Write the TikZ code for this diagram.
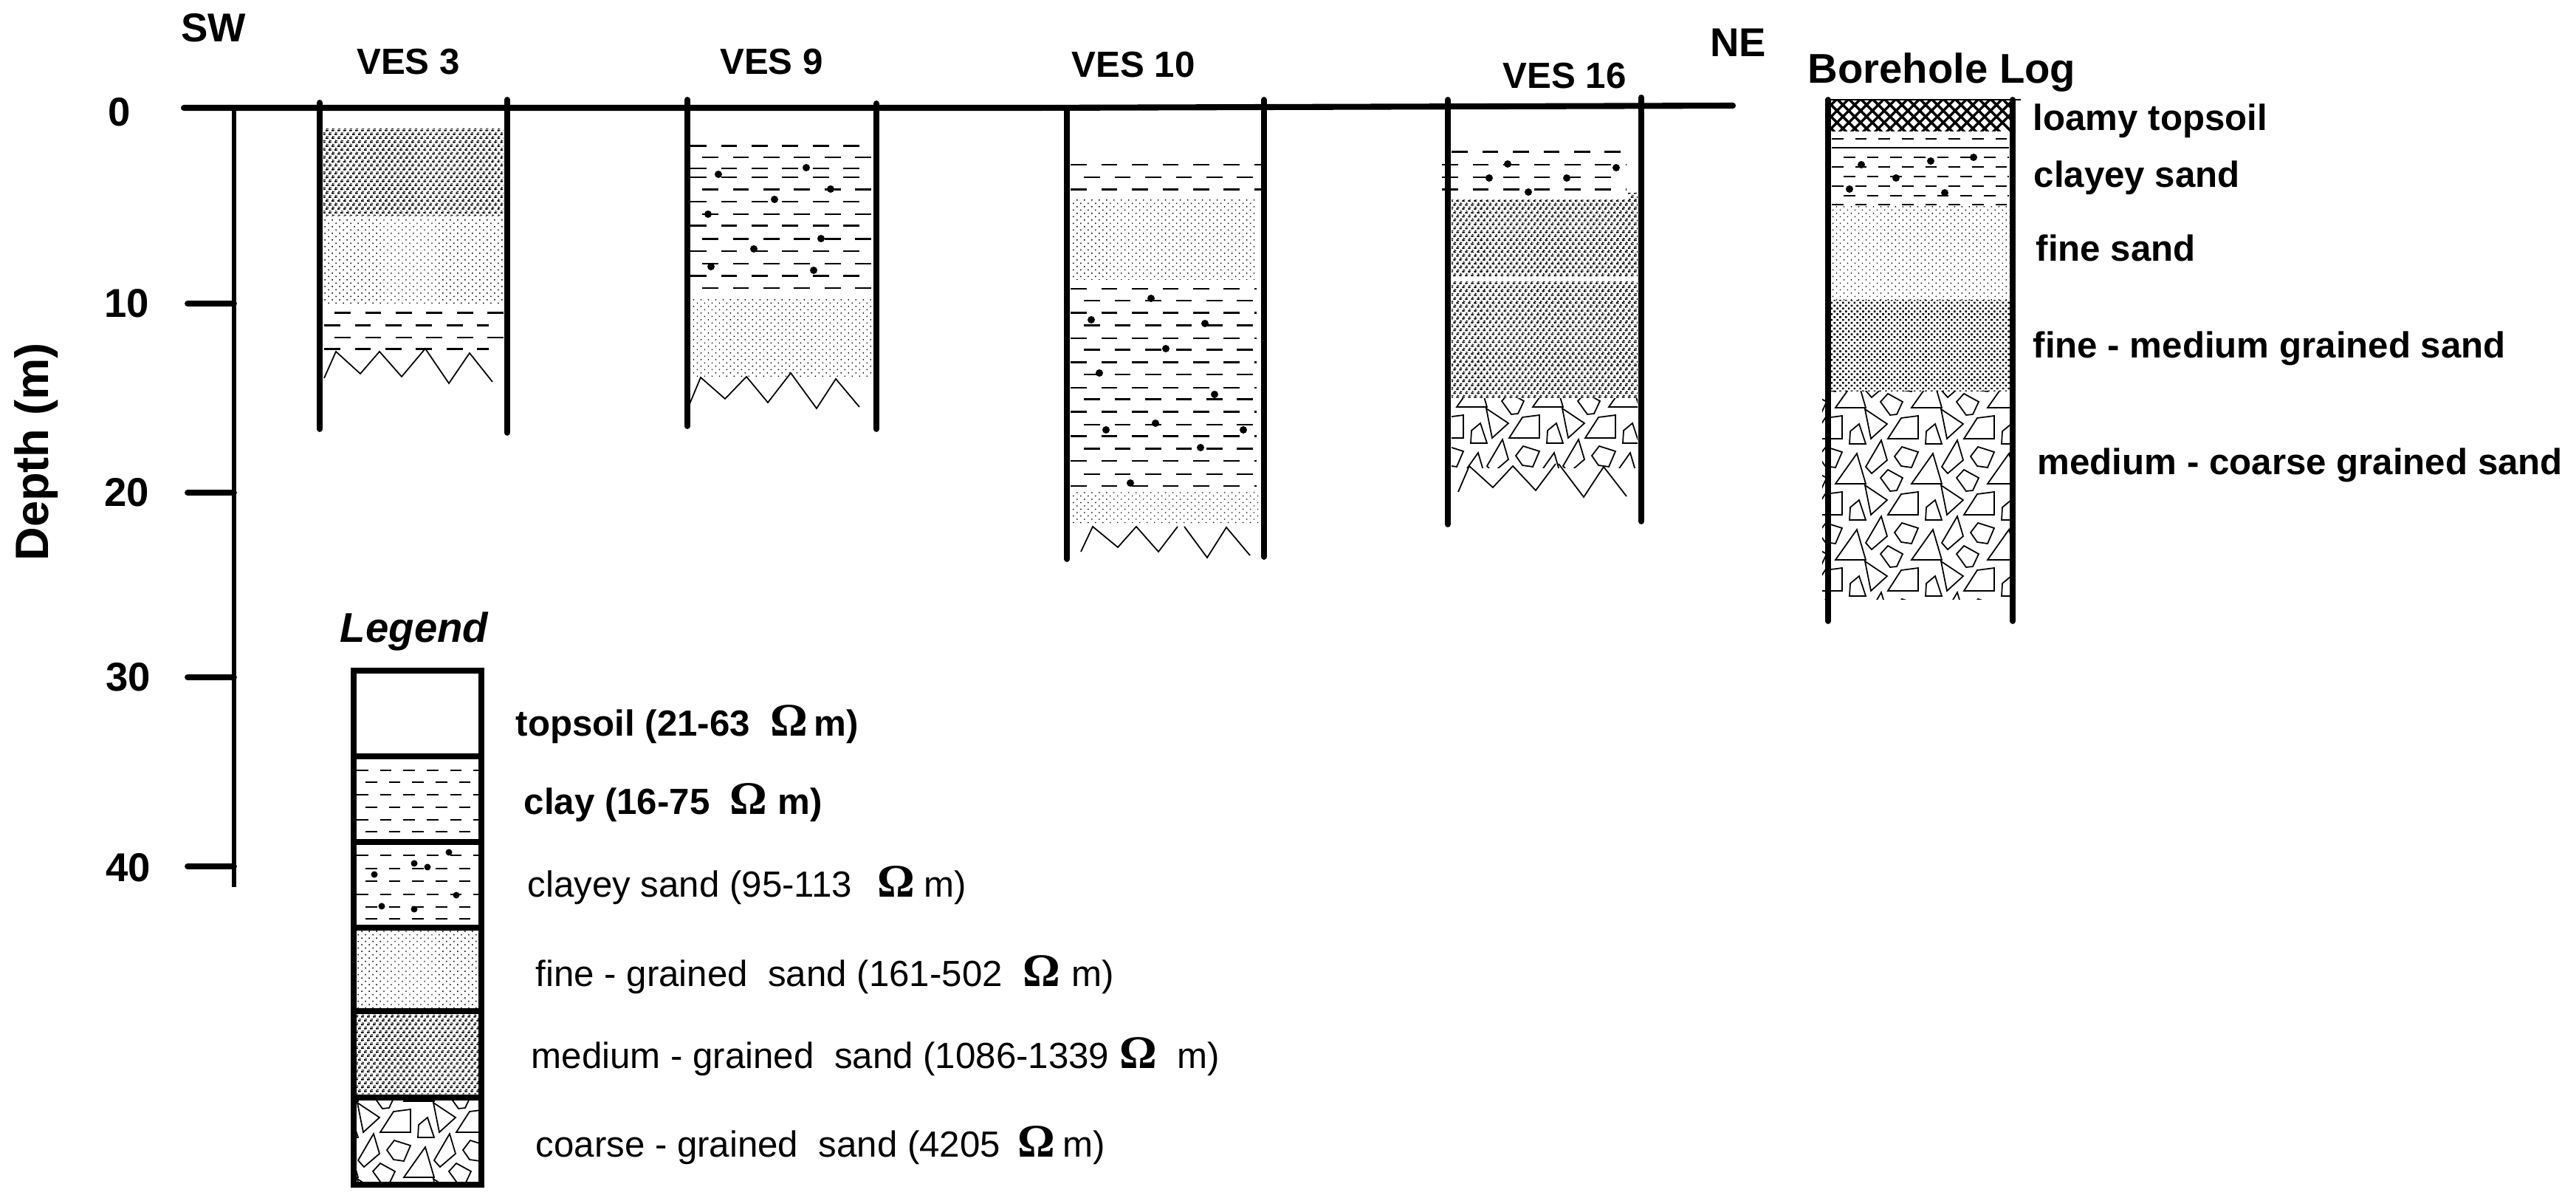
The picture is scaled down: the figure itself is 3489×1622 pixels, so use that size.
\documentclass[tikz,border=0pt]{standalone}
\usepackage{fontspec}
\setmainfont{Liberation Sans}
\newfontfamily\omegafont{Liberation Serif}
\usetikzlibrary{patterns}
\def\ohmsign{{\omegafont\bfseries\fontsize{18}{20}\selectfont Ω}}
\pgfdeclarepatternformonly{finesand}{\pgfqpoint{-1pt}{-1pt}}{\pgfqpoint{2pt}{2pt}}{\pgfqpoint{2.84pt}{2.56pt}}{
	\pgfpathrectangle{\pgfqpoint{0pt}{0pt}}{\pgfqpoint{0.4pt}{0.4pt}}
	\pgfpathrectangle{\pgfqpoint{1.42pt}{1.28pt}}{\pgfqpoint{0.4pt}{0.4pt}}
	\pgfusepath{fill}}
\pgfdeclarepatternformonly{mediumsand}{\pgfqpoint{-1pt}{-1pt}}{\pgfqpoint{3pt}{4pt}}{\pgfqpoint{2.28pt}{3.02pt}}{
	\pgfpathrectangle{\pgfqpoint{0pt}{0pt}}{\pgfqpoint{0.65pt}{0.6pt}}
	\pgfpathrectangle{\pgfqpoint{0.7pt}{0.1pt}}{\pgfqpoint{0.38pt}{0.32pt}}
	\pgfpathrectangle{\pgfqpoint{0.35pt}{0.75pt}}{\pgfqpoint{0.32pt}{0.42pt}}
	\pgfpathrectangle{\pgfqpoint{0.8pt}{0.7pt}}{\pgfqpoint{0.32pt}{0.32pt}}
	\pgfpathrectangle{\pgfqpoint{1.14pt}{1.51pt}}{\pgfqpoint{0.65pt}{0.6pt}}
	\pgfpathrectangle{\pgfqpoint{1.84pt}{1.61pt}}{\pgfqpoint{0.38pt}{0.32pt}}
	\pgfpathrectangle{\pgfqpoint{1.49pt}{2.26pt}}{\pgfqpoint{0.32pt}{0.42pt}}
	\pgfpathrectangle{\pgfqpoint{1.94pt}{2.21pt}}{\pgfqpoint{0.32pt}{0.32pt}}
	\pgfusepath{fill}}
\pgfdeclarepatternformonly{densesand}{\pgfqpoint{-1pt}{-1pt}}{\pgfqpoint{3pt}{3pt}}{\pgfqpoint{2.2pt}{2.2pt}}{
	\pgfpathrectangle{\pgfqpoint{0pt}{0pt}}{\pgfqpoint{0.75pt}{0.7pt}}
	\pgfpathrectangle{\pgfqpoint{1.1pt}{1.1pt}}{\pgfqpoint{0.75pt}{0.7pt}}
	\pgfusepath{fill}}
\tikzset{
	welltube/.style={line width=2.2pt, line cap=round},
	finelayer/.style={pattern=finesand},
	mediumlayer/.style={pattern=mediumsand},
	denselayer/.style={pattern=densesand},
	claythick/.style={line width=0.85pt, dash pattern=on 6.2pt off 5.6pt},
	claythin/.style={line width=0.35pt, dash pattern=on 6.2pt off 5.6pt},
	logthick/.style={line width=0.7pt, dash pattern=on 4.5pt off 4.5pt},
	logthin/.style={line width=0.35pt, dash pattern=on 4.5pt off 4.5pt},
	gravelline/.style={line width=0.5pt},
	zigzag/.style={line width=0.5pt},
	bigbold/.style={font=\fontsize{15.5}{18}\selectfont\bfseries, inner sep=0pt},
	welllabel/.style={font=\fontsize{14}{16}\selectfont\bfseries, inner sep=0pt, anchor=base},
	boldtext/.style={font=\fontsize{14}{16}\selectfont\bfseries, inner sep=0pt, anchor=base west},
	plaintext/.style={font=\fontsize{14}{16}\selectfont, inner sep=0pt, anchor=base west},
}
\def\gravelbed(#1,#2)(#3,#4)(#5,#6){
	\begin{scope}
		\clip (#1,#2) rectangle (#3,#4);
		\foreach \i in {-1,...,3} \foreach \j in {-1,...,3} {
			\begin{scope}[shift={({#5+103*\i},{#6+103*\j})}]
				\draw[gravelline] (0,2) -- (30,22) -- (8,42) -- cycle;
				\draw[gravelline] (31,42) -- (49,14) -- (72,11) -- (72,42) -- cycle;
				\draw[gravelline] (-20,32) -- (-8,22) -- (1,49) -- (-21,49) -- cycle;
				\draw[gravelline] (1,80) -- (22,44) -- (30,71) -- (9,89) -- cycle;
				\draw[gravelline] (40,66) -- (50,53) -- (72,60) -- (63,81) -- (49,79) -- cycle;
				\draw[gravelline] (-40,103) -- (-11,62) -- (1,103) -- cycle;
				\draw[gravelline] (21,95) -- (31,84) -- (51,95) -- (43,112) -- (34,113) -- cycle;
			\end{scope}
		}
	\end{scope}
}

\begin{document}
\begin{tikzpicture}[x=0.01cm, y=-0.01cm]
	\useasboundingbox (0,0) rectangle (3489,1622);
	
	%%%%% AXIS %%%%%
	\draw[line width=1.7pt] (317,146) -- (317,1201);
	\draw[welltube] (254,411) -- (317,411);
	\draw[welltube] (254,667) -- (317,667);
	\draw[welltube] (254,917) -- (317,917);
	\draw[welltube] (254,1173) -- (317,1173);
	\node[bigbold] (depth0) at (162,152) {0};
	\node[bigbold] (depth10) at (172,411) {10};
	\node[bigbold] (depth20) at (172,667) {20};
	\node[bigbold] (depth30) at (174,917) {30};
	\node[bigbold] (depth40) at (174,1175) {40};
	\node[bigbold, font=\fontsize{18}{20}\selectfont\bfseries, rotate=90] (depthname) at (49,612) {Depth (m)};
	\node[bigbold] (sw) at (289,38) {SW};
	\node[bigbold] (ne) at (2354,58) {NE};
	
	%%%%% VES 3 %%%%%
	\node[welllabel] (ves3) at (553,101) {VES 3};
	\fill[mediumlayer] (438,174) rectangle (682,293);
	\fill[finelayer] (438,298) rectangle (682,413);
	\draw[claythick] (453,424) -- (682,424);
	\draw[claythick] (439,441) -- (662,441);
	\draw[claythin] (453,457) -- (682,457);
	\draw[claythick] (439,473) -- (662,473);
	\draw[zigzag] (439,512) -- (455,476) -- (488,506) -- (514,476) -- (544,510) -- (576,472) -- (608,519) -- (636,478) -- (667,517);
	\draw[welltube] (433,139) -- (433,581);
	\draw[welltube] (687,135) -- (687,586);
	
	%%%%% VES 9 %%%%%
	\node[welllabel] (ves9) at (1045,101) {VES 9};
	\foreach \y/\x in {198/935,257/951,306/935,324/951,374/935}
		\draw[claythick] (\x,\y) -- (1183,\y);
	\foreach \y/\x in {213/951,228/935,240/935,273/935,290/951,340/935,357/951,390/951}
		\draw[claythin] (\x,\y) -- (1183,\y);
	\foreach \x/\y in {973/236,1092/227,1125/256,1049/270,959/290,1112/323,1021/337,963/361,1102/366}
		\fill (\x,\y) circle[radius=5];
	\fill[finelayer] (935,406) rectangle (1180,513);
	\draw[zigzag] (934,547) -- (949,511) -- (982,540) -- (1011,510) -- (1040,545) -- (1071,505) -- (1106,553) -- (1132,513) -- (1164,551);
	\draw[welltube] (931,135) -- (931,577);
	\draw[welltube] (1187,140) -- (1187,581);
	
	%%%%% VES 10 %%%%%
	\node[welllabel] (ves10) at (1535,105) {VES 10};
	\draw[claythin] (1450,223) -- (1708,223);
	\draw[claythin] (1468,240) -- (1708,240);
	\draw[claythick] (1450,257) -- (1708,257);
	\fill[finelayer] (1450,271) rectangle (1702,379);
	\foreach \y/\x in {424/1450,441/1468,474/1468,491/1450,541/1468,558/1450,591/1450,608/1468,658/1450}
		\draw[claythick] (\x,\y) -- (1702,\y);
	\foreach \y/\x in {391/1450,407/1468,458/1450,507/1468,525/1450,575/1468,624/1450,642/1468}
		\draw[claythin] (\x,\y) -- (1702,\y);
	\foreach \x/\y in {1559/404,1478/433,1632/438,1579/472,1489/505,1645/534,1565/573,1498/582,1684/582,1626/606,1531/654}
		\fill (\x,\y) circle[radius=5];
	\fill[finelayer] (1450,666) rectangle (1705,710);
	\draw[zigzag] (1464,747) -- (1480,713) -- (1514,741) -- (1539,713) -- (1569,747) -- (1595,713);
	\draw[zigzag] (1604,713) -- (1635,755) -- (1661,714) -- (1693,752);
	\draw[welltube] (1445,146) -- (1445,757);
	\draw[welltube] (1712,135) -- (1712,754);
	
	%%%%% VES 16 %%%%%
	\node[welllabel] (ves16) at (2119,120) {VES 16};
	\draw[claythick] (1966,206) -- (2197,206);
	\draw[claythin] (1953,223) -- (2203,223);
	\draw[claythin] (1953,240) -- (2197,240);
	\draw[claythick] (1953,257) -- (2203,257);
	\foreach \x/\y in {2042/222,2189/227,2017/241,2122/241,2070/260}
		\fill (\x,\y) circle[radius=5];
	\fill[mediumlayer] (1966,271) rectangle (2218,375);
	\fill[mediumlayer] (2205,262) rectangle (2218,271);
	\fill[mediumlayer] (1966,382) rectangle (2218,539);
	\gravelbed(1966,540)(2218,634)(2013,551)
	\draw[zigzag] (1975,666) -- (1990,631) -- (2022,660) -- (2049,631) -- (2080,664) -- (2107,628);
	\draw[zigzag] (2111,628) -- (2145,673) -- (2172,632) -- (2203,672);
	\draw[welltube] (1961,135) -- (1961,710);
	\draw[welltube] (2223,132) -- (2223,706);
	
	%%%%% SURFACE %%%%%
	\draw[line width=2.3pt, line cap=round] (249,146) -- (1400,146) -- (2347,143);
	
	%%%%% BOREHOLE %%%%%
	\node[bigbold, anchor=base west, font=\fontsize{16}{18}\selectfont\bfseries] (borehole) at (2448,113) {Borehole Log};
	\begin{scope}
		\clip (2478,137) rectangle (2722,178);
		\foreach \i in {-4,...,15} {
			\draw[line width=1pt] ({2484+16*\i},130) -- ({2534+16*\i},180);
			\draw[line width=1pt] ({2508+16*\i},130) -- ({2458+16*\i},180);
		}
	\end{scope}
	\foreach \y/\x in {226/2481}
		\draw[logthick] (\x,\y) -- (2721,\y);
	\foreach \y/\x in {188/2481,213/2497,239/2497,252/2481,265/2497,277/2481}
		\draw[logthin] (\x,\y) -- (2721,\y);
	\draw[line width=0.3pt] (2481,200) -- (2721,200);
	\foreach \x/\y in {2521/223,2615/218,2673/213,2568/241,2505/256,2634/261}
		\fill (\x,\y) circle[radius=5];
	\fill[finelayer] (2480,279) rectangle (2722,407);
	\fill[denselayer] (2480,407) rectangle (2722,530);
	\gravelbed(2468,530)(2722,812)(2526,552)
	\draw[line width=0.7pt] (2472,135) -- (2737,135);
	\draw[welltube] (2476,135) -- (2476,841);
	\draw[welltube] (2726,135) -- (2726,841);
	\node[boldtext] (loamy) at (2753,177) {loamy topsoil};
	\node[boldtext] (clayeysand) at (2754,254) {clayey sand};
	\node[boldtext] (finesand) at (2757,354) {fine sand};
	\node[boldtext] (finemedium) at (2753,485) {fine - medium grained sand};
	\node[boldtext] (mediumcoarse) at (2759,643) {medium - coarse grained sand};
	
	%%%%% LEGEND %%%%%
	\node[bigbold, anchor=base, font=\fontsize{16}{18}\selectfont\bfseries\itshape] (legend) at (561,870) {Legend};
	\foreach \y/\x in {1059/495,1126/495}
		\draw[logthick] (\x,\y) -- (648,\y);
	\foreach \y/\x in {1043/483,1076/483,1093/495,1110/483}
		\draw[logthin] (\x,\y) -- (648,\y);
	\foreach \y/\x in {1176/495,1193/495,1244/495}
		\draw[logthick] (\x,\y) -- (648,\y);
	\foreach \y/\x in {1158/483,1211/483,1228/495}
		\draw[logthin] (\x,\y) -- (648,\y);
	\foreach \x/\y in {608/1154,561/1169,579/1174,507/1184,618/1212,517/1227,561/1231}
		\fill (\x,\y) circle[radius=4.5];
	\fill[finelayer] (483,1260) rectangle (648,1365);
	\fill[mediumlayer] (483,1373) rectangle (648,1482);
	\gravelbed(483,1490)(648,1600)(587,1491)
	\draw[welltube, line cap=butt] (479,908) rectangle (652,1604);
	\draw[welltube, line cap=butt] (479,1024) -- (652,1024);
	\draw[welltube, line cap=butt] (479,1140) -- (652,1140);
	\draw[welltube, line cap=butt] (479,1256) -- (652,1256);
	\draw[welltube, line cap=butt] (477,1369) -- (654,1369);
	\draw[welltube, line cap=butt] (479,1486) -- (652,1486);
	\node[boldtext] (topsoilkey) at (698,997) {topsoil (21-63 ~\ohmsign\hspace{2.5pt}m)};
	\node[boldtext] (claykey) at (709,1103) {clay (16-75 ~\ohmsign~m)};
	\node[plaintext] (clayeykey) at (714,1215) {clayey sand (95-113 ~\hspace{2pt}\ohmsign\hspace{3.5pt}m)};
	\node[plaintext] (finekey) at (725,1335) {fine - grained~ sand (161-502 ~\ohmsign\hspace{4.5pt}m)};
	\node[plaintext] (mediumkey) at (719,1446) {medium - grained~ sand (1086-1339\hspace{4pt}\ohmsign~ m)};
	\node[plaintext] (coarsekey) at (725,1566) {coarse - grained~ sand (4205\hspace{6.5pt}\ohmsign\hspace{3pt}m)};
\end{tikzpicture}
\end{document}
